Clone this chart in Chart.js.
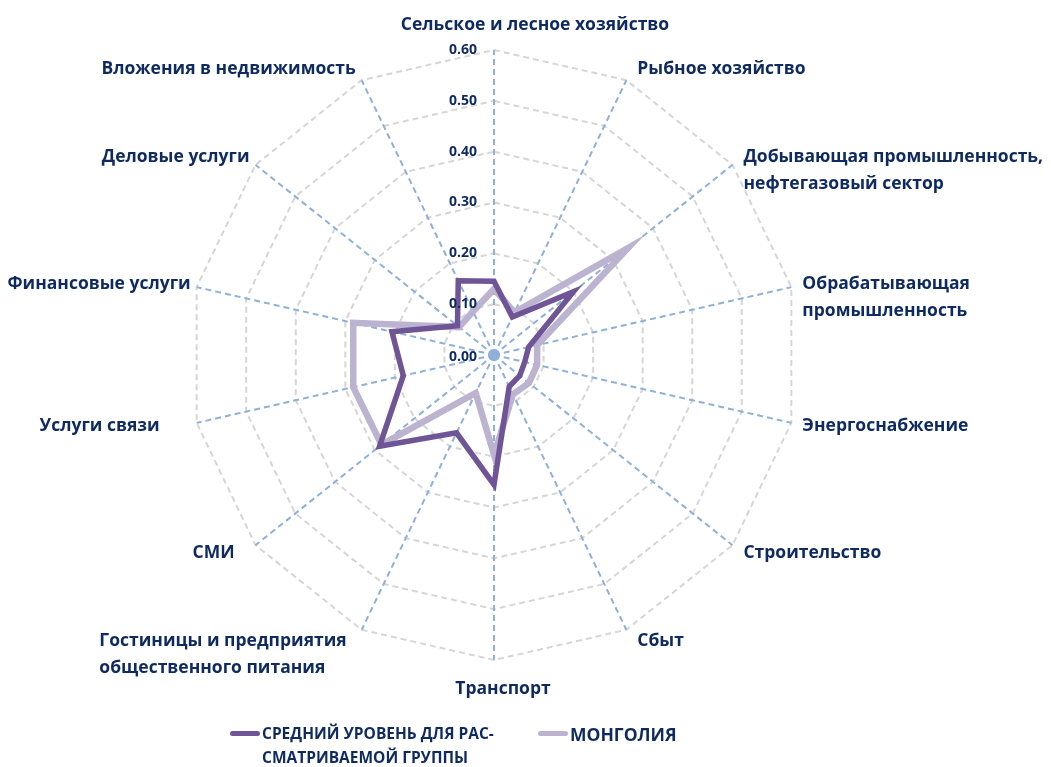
<!DOCTYPE html>
<html lang="ru">
<head>
<meta charset="utf-8">
<title>Radar</title>
<script src="https://cdn.jsdelivr.net/npm/chart.js@4/dist/chart.umd.min.js"></script>
<style>
  html, body { margin: 0; padding: 0; background: #fff; }
  .wrap { position: relative; width: 1051px; height: 767px; font-family: "Open Sans", sans-serif; }
  .legend { position: absolute; left: 0; top: 0; width: 100%; height: 100%; pointer-events: none; }
  .legend .item { position: absolute; display: flex; align-items: flex-start; color: #0e2a5e; font-weight: bold; }
  .legend .swatch { width: 30px; height: 5px; border-radius: 3px; margin-right: 2px; }
</style>
</head>
<body>
<div class="wrap">
  <canvas id="radar"></canvas>
  <div class="legend" id="legend"></div>
</div>
<script>
const categories = [
    'Сельское и лесное хозяйство',
    'Рыбное хозяйство',
    ['Добывающая промышленность,', 'нефтегазовый сектор'],
    ['Обрабатывающая', 'промышленность'],
    'Энергоснабжение',
    'Строительство',
    'Сбыт',
    'Транспорт',
    ['Гостиницы и предприятия', 'общественного питания'],
    'СМИ',
    'Услуги связи',
    'Финансовые услуги',
    'Деловые услуги',
    'Вложения в недвижимость'
];
const avgGroup = [0.145, 0.083, 0.200, 0.070, 0.062, 0.065, 0.069, 0.255, 0.170, 0.288, 0.183, 0.206, 0.092, 0.162];
const mongolia = [0.130, 0.093, 0.337, 0.087, 0.087, 0.088, 0.086, 0.196, 0.083, 0.283, 0.284, 0.284, 0.088, 0.095];
const tickValues = [0.00, 0.10, 0.20, 0.30, 0.40, 0.50, 0.60];
const seriesNames = [['СРЕДНИЙ УРОВЕНЬ ДЛЯ РАС-', 'СМАТРИВАЕМОЙ ГРУППЫ'], ['МОНГОЛИЯ']];

const navy = '#0e2a5e';
const darkPurple = '#6f5596';
const lightPurple = '#bbb3cf';

// label tweaks (excel places a few of them oddly)
const labelNudge = { 0: [41, 3], 7: [9, 1], 8: [-9, 0], 9: [-15, 0], 10: [-31, 0] };

const radarDecor = {
    id: 'radarDecor',
    beforeDatasetsDraw(chart) {
        const scale = chart.scales.r;
        const ctx = chart.ctx;
        ctx.save();
        ctx.fillStyle = '#8fb0da';
        ctx.beginPath();
        ctx.arc(scale.xCenter, scale.yCenter, 6, 0, Math.PI * 2);
        ctx.fill();
        ctx.restore();
    },
    afterDatasetsDraw(chart) {
        const scale = chart.scales.r;
        const ctx = chart.ctx;
        ctx.save();
        ctx.fillStyle = navy;

        // tick labels left of the vertical axis
        ctx.font = 'bold 14px "Open Sans"';
        ctx.textAlign = 'right';
        ctx.textBaseline = 'middle';
        tickValues.forEach(v => {
            const d = scale.getDistanceFromCenterForValue(v);
            ctx.fillText(v.toFixed(2), scale.xCenter - 17, scale.yCenter - d + (v === 0 ? 2 : 0));
        });

        // category labels
        ctx.font = 'bold 17.5px "Open Sans"';
        const lineH = 27;
        categories.forEach((label, i) => {
            const angle = scale.getIndexAngle(i);
            const s = Math.sin(angle), c = Math.cos(angle);
            const end = scale.getPointPosition(i, scale.drawingArea);
            const lines = Array.isArray(label) ? label : [label];
            let x, y, align;
            if (Math.abs(s) < 0.1) {
                align = 'center';
                x = end.x;
                y = c > 0 ? end.y - 28 : end.y + 28;
            } else {
                align = s > 0 ? 'left' : 'right';
                x = end.x + (s > 0 ? 11 : -6);
                y = end.y - 12 * c;
            }
            const n = labelNudge[i] || [0, 0];
            x += n[0]; y += n[1];
            let blockW = 0;
            lines.forEach(t => { blockW = Math.max(blockW, ctx.measureText(t).width); });
            ctx.textBaseline = 'middle';
            lines.forEach((t, k) => {
                if (align === 'right') {
                    ctx.textAlign = 'left';
                    ctx.fillText(t, x - blockW, y + k * lineH);
                } else {
                    ctx.textAlign = align;
                    ctx.fillText(t, x, y + k * lineH);
                }
            });
        });
        ctx.restore();
    }
};

const data = {
    labels: categories,
    datasets: [{
        label: seriesNames[0].join(' '),
        data: avgGroup,
        borderColor: darkPurple,
        borderWidth: 5.5,
        fill: false,
        pointRadius: 0,
        borderJoinStyle: 'miter'
    }, {
        label: seriesNames[1].join(' '),
        data: mongolia,
        borderColor: lightPurple,
        borderWidth: 6.5,
        fill: false,
        pointRadius: 0,
        borderJoinStyle: 'miter'
    }]
};

const options = {
    responsive: true,
    maintainAspectRatio: false,
    animation: false,
    layout: { padding: { left: 189, right: 252, top: 50, bottom: 107 } },
    plugins: {
        legend: { display: false },
        tooltip: { enabled: false }
    },
    scales: {
        r: {
            min: 0,
            max: 0.6,
            ticks: { stepSize: 0.1, display: false },
            grid: { color: '#d6d6d6', lineWidth: 2 },
            border: { dash: [6, 4] },
            angleLines: { color: '#8fb0da', lineWidth: 2, borderDash: [6, 4] },
            pointLabels: { display: false }
        }
    }
};

const canvas = document.getElementById('radar');
canvas.parentNode.style.width = '1051px';
canvas.parentNode.style.height = '767px';
const chart = new Chart(canvas, { type: 'radar', data: data, options: options, plugins: [radarDecor] });

// html legend
const legend = document.getElementById('legend');
const legendPos = [[230, 721, 15.5, 24, 10], [538, 721, 17.5, 26, 10]];
data.datasets.forEach((ds, i) => {
    const p = legendPos[i];
    const item = document.createElement('div');
    item.className = 'item';
    item.style.left = p[0] + 'px';
    item.style.top = p[1] + 'px';
    item.style.fontSize = p[2] + 'px';
    item.style.lineHeight = p[3] + 'px';
    const sw = document.createElement('div');
    sw.className = 'swatch';
    sw.style.background = ds.borderColor;
    sw.style.marginTop = p[4] + 'px';
    const txt = document.createElement('div');
    txt.innerHTML = seriesNames[i].join('<br>');
    item.appendChild(sw);
    item.appendChild(txt);
    legend.appendChild(item);
});
</script>
</body>
</html>
